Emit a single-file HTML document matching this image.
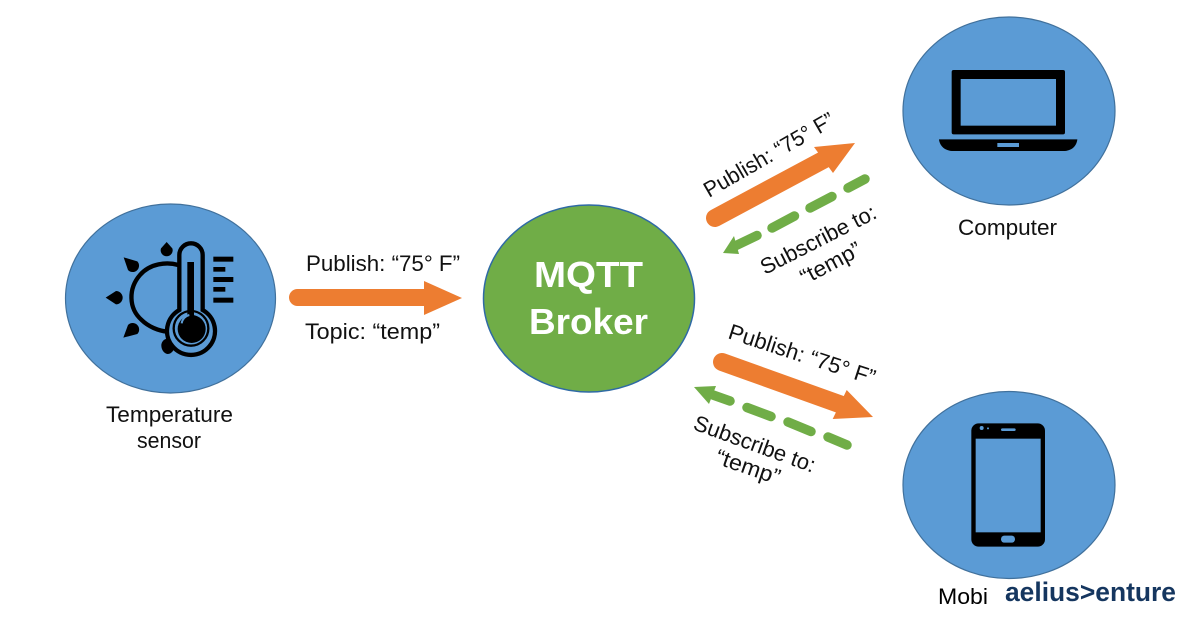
<!DOCTYPE html>
<html><head><meta charset="utf-8"><style>
html,body{margin:0;padding:0;background:#fff;width:1200px;height:628px;overflow:hidden}
svg{display:block;filter:blur(.35px)}
text{font-family:"Liberation Sans",sans-serif;fill:#111;font-size:22px}
</style></head><body>
<svg width="1200" height="628" viewBox="0 0 1200 628" xmlns="http://www.w3.org/2000/svg">
<rect width="1200" height="628" fill="#fff"/>
<!-- circles -->
<g fill="#5B9BD5" stroke="#41719C" stroke-width="1.2">
<ellipse cx="170.500" cy="298.500" rx="105" ry="94.500"/>
<ellipse cx="1009" cy="111" rx="106" ry="94"/>
<ellipse cx="1009" cy="485" rx="106" ry="93.500"/>
</g>
<ellipse cx="589" cy="298.500" rx="105.500" ry="93.500" fill="#70AD47" stroke="#2F6AA5" stroke-width="1.500"/>

<!-- thermometer icon -->
<g transform="translate(50,180) scale(.33333)">
<path d="M385 255 C350 245 300 250 270 285 C235 325 235 385 275 420 C295 440 325 452 352 455" fill="none" stroke="#000" stroke-width="13"/>
<g fill="#000">
<path d="M350 186 L367 205 A18 18 0 1 1 333 205Z"/>
<path d="M221 232 L262 244 A18 18 0 1 1 234 270Z"/>
<path d="M167 353 L198 333 A20 20 0 1 1 198 373Z"/>
<path d="M220 473 L234 435 A18 18 0 1 1 262 462Z"/>
<path d="M352 476 A23 23 0 0 1 374 497 A22 26 0 0 1 352 522 A22 26 0 0 1 334 497 A20 20 0 0 1 352 476Z"/>
</g>
<path d="M388 390 V225 A35 35 0 0 1 458 225 V390 A72 72 0 1 1 388 390Z" fill="#5B9BD5" stroke="#000" stroke-width="13"/>
<circle cx="423" cy="445" r="52" fill="#5B9BD5" stroke="#000" stroke-width="7"/>
<rect x="412" y="246" width="20" height="170" fill="#000"/>
<circle cx="425" cy="447" r="42" fill="#000"/>
<path d="M395 430 A30 30 0 0 1 418 405" fill="none" stroke="#5B9BD5" stroke-width="6"/>
<g fill="#000">
<rect x="490" y="230" width="60" height="15"/>
<rect x="490" y="261" width="36" height="14"/>
<rect x="490" y="291" width="60" height="15"/>
<rect x="490" y="321" width="36" height="14"/>
<rect x="490" y="353" width="60" height="15"/>
</g>
</g>

<!-- laptop icon -->
<g transform="translate(900,0) scale(.33333)">
<rect x="155" y="210" width="340" height="193" rx="6" fill="#000"/>
<rect x="182" y="237" width="286" height="140" fill="#5B9BD5"/>
<path d="M117 418 H532 C530 438 515 453 490 453 H160 C135 453 119 438 117 418Z" fill="#000"/>
<rect x="292" y="429" width="65" height="12" fill="#5B9BD5"/>
</g>

<!-- phone icon -->
<g transform="translate(900,390) scale(.33333)">
<rect x="214" y="100" width="221" height="370" rx="22" fill="#000"/>
<rect x="227" y="146" width="195" height="281" fill="#5B9BD5"/>
<rect x="303" y="115" width="44" height="8" rx="4" fill="#5B9BD5"/>
<circle cx="245" cy="114" r="6" fill="#5B9BD5"/>
<circle cx="264" cy="115" r="3" fill="#5B9BD5"/>
<rect x="303" y="437" width="42" height="21" rx="10" fill="#5B9BD5"/>
</g>

<!-- orange arrows -->
<g fill="#ED7D31" stroke="#ED7D31" stroke-linecap="round">
<line x1="297.500" y1="297.500" x2="426" y2="297.500" stroke-width="17"/>
<polygon points="424,281 462,298 424,315" stroke="none"/>
<line x1="715" y1="218" x2="825" y2="159" stroke-width="18"/>
<polygon points="814,147 855,143 833,173" stroke="none"/>
<line x1="722" y1="362" x2="842" y2="405" stroke-width="18"/>
<polygon points="846.700,390 873,417 832.700,419" stroke="none"/>
</g>

<!-- green dashed arrows -->
<g stroke="#70AD47" stroke-width="9.500" stroke-linecap="round" fill="#70AD47">
<line x1="848" y1="188" x2="865" y2="179"/>
<line x1="810" y1="208" x2="832" y2="196.500"/>
<line x1="772" y1="228" x2="794.500" y2="216"/>
<line x1="733" y1="247" x2="757" y2="235.500"/>
<polygon points="723,253 734,236 739,254" stroke="none"/>
<line x1="713" y1="395" x2="730" y2="401"/>
<line x1="747" y1="407.500" x2="771" y2="416.500"/>
<line x1="788" y1="422" x2="811" y2="431.500"/>
<line x1="828" y1="437" x2="847" y2="445"/>
<polygon points="694,387 716,386 709,404" stroke="none"/>
</g>

<!-- labels -->
<text x="106" y="422" textLength="127" lengthAdjust="spacingAndGlyphs">Temperature</text>
<text x="137" y="448" textLength="64" lengthAdjust="spacingAndGlyphs">sensor</text>
<text x="958" y="235" textLength="99" lengthAdjust="spacingAndGlyphs">Computer</text>
<text x="306" y="271" textLength="154" lengthAdjust="spacingAndGlyphs">Publish: “75° F”</text>
<text x="305" y="339" textLength="135" lengthAdjust="spacingAndGlyphs">Topic: “temp”</text>
<text x="534" y="287" textLength="109" lengthAdjust="spacingAndGlyphs" style="font-size:36px;font-weight:bold;fill:#fff">MQTT</text>
<text x="529" y="334" textLength="119" lengthAdjust="spacingAndGlyphs" style="font-size:36px;font-weight:bold;fill:#fff">Broker</text>

<text transform="translate(709,198) rotate(-30)" textLength="147" lengthAdjust="spacingAndGlyphs">Publish: “75° F”</text>
<text transform="translate(765,275) rotate(-27)" textLength="127" lengthAdjust="spacingAndGlyphs">Subscribe to:</text>
<text transform="translate(805,285) rotate(-28)" textLength="66" lengthAdjust="spacingAndGlyphs">“temp”</text>
<text transform="translate(727,338) rotate(18)" textLength="153" lengthAdjust="spacingAndGlyphs">Publish: “75° F”</text>
<text transform="translate(692,429) rotate(20)" textLength="128" lengthAdjust="spacingAndGlyphs">Subscribe to:</text>
<text transform="translate(714,463) rotate(19)" textLength="67" lengthAdjust="spacingAndGlyphs">“temp”</text>

<!-- footer text and logo -->
<text x="938" y="604" textLength="50" lengthAdjust="spacingAndGlyphs" style="fill:#000">Mobi</text>
<text x="1005" y="601" textLength="171" lengthAdjust="spacingAndGlyphs" style="font-size:27px;font-weight:bold;fill:#15365F">aelius&gt;enture</text>
</svg>
</body></html>
